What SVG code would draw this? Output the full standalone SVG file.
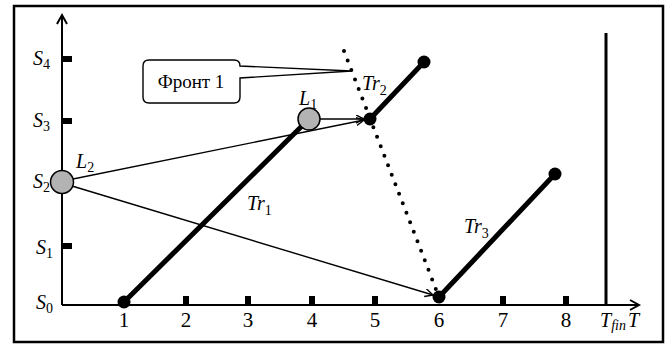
<svg xmlns="http://www.w3.org/2000/svg" width="670" height="345" viewBox="0 0 670 345">
<style>
.t{font-family:"Liberation Serif","Times New Roman",serif;font-size:20px;fill:#000}
.n{font-size:21px}
.i{font-style:italic}
.sub{font-size:14px;font-style:normal}
.axis{stroke:#000;stroke-width:2;fill:none}
.thin{stroke:#000;stroke-width:1.4;fill:none}
.thick{stroke:#000;stroke-width:5;fill:none;stroke-linecap:round}
.tick{fill:#000}
.dot{fill:#000}
.node{fill:#b3b3b3;stroke:#000;stroke-width:1.5}
</style>
<defs>
<marker id="ah" markerWidth="10" markerHeight="10" refX="8" refY="4" orient="auto" markerUnits="userSpaceOnUse">
<path d="M0,0 L8,4 L0,8" fill="none" stroke="#000" stroke-width="1.4"/>
</marker>
</defs>
<rect x="14" y="6" width="649" height="336" fill="#fff" stroke="#000" stroke-width="2.5"/>
<g id="axes">
<line class="axis" x1="62" y1="305" x2="62" y2="16"/>
<path class="axis" d="M57,24 L62,15 L67,24"/>
<line class="axis" x1="62" y1="305" x2="639" y2="305"/>
<path class="axis" d="M630,300 L639,305 L630,310"/>
<rect class="tick" x="62" y="56" width="10" height="6"/>
<rect class="tick" x="62" y="118" width="10" height="6"/>
<rect class="tick" x="62" y="243" width="10" height="6"/>
<rect class="tick" x="183" y="296" width="6" height="9"/>
<rect class="tick" x="245" y="296" width="6" height="9"/>
<rect class="tick" x="309" y="296" width="6" height="9"/>
<rect class="tick" x="372" y="296" width="6" height="9"/>
<rect class="tick" x="500" y="296" width="6" height="9"/>
<rect class="tick" x="563" y="296" width="6" height="9"/>
<line x1="606" y1="33" x2="606" y2="305" stroke="#000" stroke-width="3"/>
</g>
<g id="axis-labels">
<text class="t i" x="33" y="65">S<tspan class="sub" dy="4">4</tspan></text>
<text class="t i" x="33" y="127">S<tspan class="sub" dy="4">3</tspan></text>
<text class="t i" x="33" y="188">S<tspan class="sub" dy="4">2</tspan></text>
<text class="t i" x="36" y="254">S<tspan class="sub" dy="4">1</tspan></text>
<text class="t i" x="36" y="309">S<tspan class="sub" dy="4">0</tspan></text>
<text class="t n" x="124" y="327" text-anchor="middle">1</text>
<text class="t n" x="186" y="327" text-anchor="middle">2</text>
<text class="t n" x="248" y="327" text-anchor="middle">3</text>
<text class="t n" x="312" y="327" text-anchor="middle">4</text>
<text class="t n" x="375" y="327" text-anchor="middle">5</text>
<text class="t n" x="439" y="327" text-anchor="middle">6</text>
<text class="t n" x="503" y="327" text-anchor="middle">7</text>
<text class="t n" x="566" y="327" text-anchor="middle">8</text>
<text class="t i" x="600" y="327">T<tspan class="sub" style="font-style:italic" dy="3">fin</tspan><tspan dy="-3" x="628">T</tspan></text>
</g>
<g id="connectors">
<line class="thin" x1="320" y1="119" x2="364" y2="119" marker-end="url(#ah)"/>
<line class="thin" x1="73" y1="179" x2="364" y2="120" marker-end="url(#ah)"/>
<line class="thin" x1="72" y1="186" x2="433" y2="295" marker-end="url(#ah)"/>
<line x1="344" y1="51" x2="437" y2="292" stroke="#000" stroke-width="4" stroke-linecap="round" stroke-dasharray="0 10.2"/>
</g>
<g id="tr1">
<line class="thick" x1="124" y1="302" x2="309" y2="119"/>
<circle class="dot" cx="124" cy="302" r="6.5"/>
<text class="t i" x="247" y="210">Tr<tspan class="sub" dy="5">1</tspan></text>
</g>
<g id="tr2">
<line class="thick" x1="370" y1="119" x2="424" y2="62"/>
<circle class="dot" cx="370" cy="119" r="6.5"/>
<circle class="dot" cx="424" cy="62" r="6.5"/>
<text class="t i" x="362" y="90">Tr<tspan class="sub" dy="5">2</tspan></text>
</g>
<g id="tr3">
<line class="thick" x1="439" y1="297" x2="555" y2="174"/>
<circle class="dot" cx="439" cy="297" r="6.5"/>
<circle class="dot" cx="555" cy="174" r="6.5"/>
<text class="t i" x="464" y="233">Tr<tspan class="sub" dy="5">3</tspan></text>
</g>
<g id="L1">
<circle class="node" cx="309" cy="119" r="11"/>
<text class="t i" x="299" y="105">L<tspan class="sub" dy="4">1</tspan></text>
</g>
<g id="L2">
<circle class="node" cx="62" cy="182" r="11.5"/>
<text class="t i" x="76" y="168">L<tspan class="sub" dy="4">2</tspan></text>
</g>
<g id="front1">
<path d="M149,60 H234 Q240,60 240,66 L352,71 L240,78 V97 Q240,103 234,103 H149 Q143,103 143,97 V66 Q143,60 149,60 Z" fill="#fff" stroke="#000" stroke-width="1.4"/>
<text class="t" x="191" y="88" text-anchor="middle" style="font-size:19px">Фронт 1</text>
</g>
</svg>
